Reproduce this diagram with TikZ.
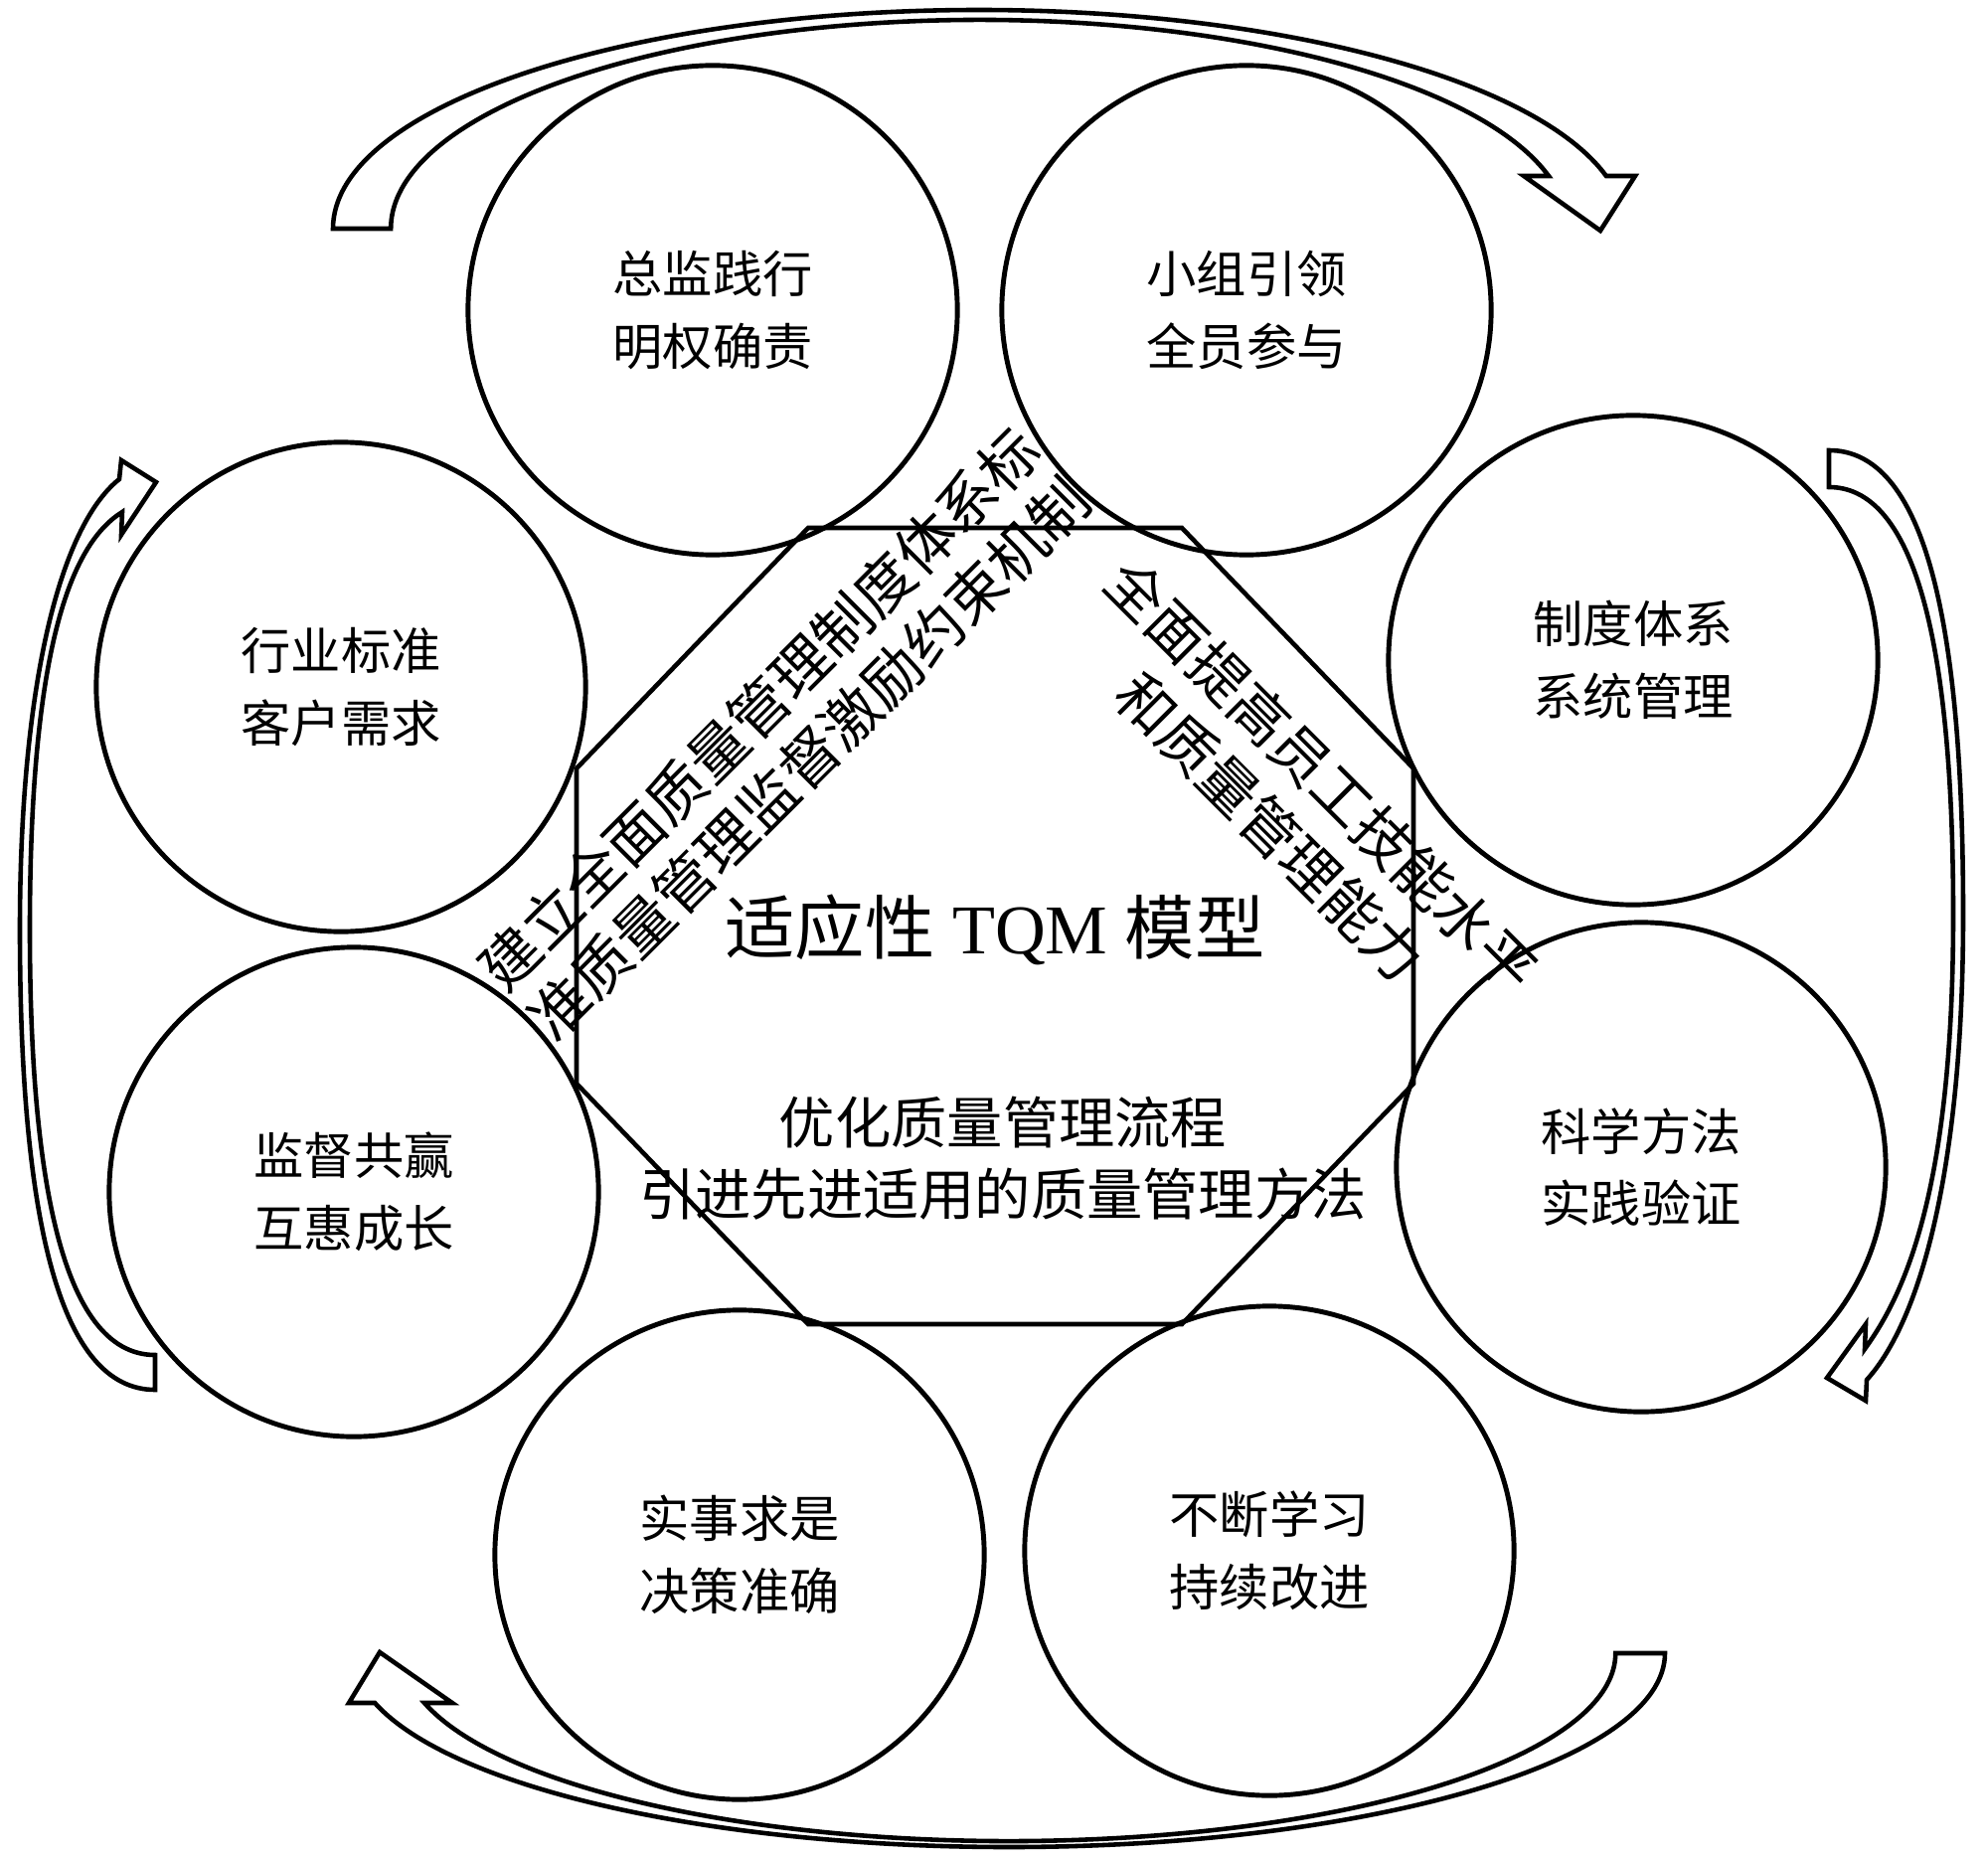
\documentclass[tikz,border=0pt]{standalone}
\usepackage{fontspec}
\setmainfont{Liberation Serif}
\newfontfamily\cjk{Noto Sans CJK SC}
\begin{document}
\begin{tikzpicture}[x=0.01cm,y=0.01cm,
  bub/.style={circle, draw, line width=1.4pt, minimum size=4.92cm, inner sep=0pt,
    align=center, font=\cjk\fontsize{14.3}{20.7}\selectfont},
  band/.style={draw, fill=white, line width=1.3pt, line join=miter},
  oct/.style={draw, line width=1.3pt, line join=miter},
  diagtxt/.style={align=center, inner sep=0pt},
]
\useasboundingbox (0,0) rectangle (2000,-1870);
\fill[white] (0,0) rectangle (2000,-1870);

% curved block arrows
\draw[band] (335,-230) arc[start angle=180, end angle=13.94, x radius=650, y radius=220]
  -- (1645,-177) -- (1610,-232) -- (1533,-177) -- (1558,-177)
  arc[start angle=14.62, end angle=180, x radius=592, y radius=210] -- cycle;
\draw[band] (1675,-1663) arc[start angle=0, end angle=-165.14, x radius=660, y radius=195]
  -- (351,-1713) -- (382,-1662) -- (455,-1713) -- (427,-1713)
  arc[start angle=-164.66, end angle=0, x radius=610, y radius=189] -- cycle;
\draw[band] (1840,-453) .. controls (1935,-453) and (1975,-620) .. (1975,-920)
  .. controls (1975,-1165) and (1935,-1325) .. (1878,-1388)
  -- (1877,-1409) -- (1838,-1386) -- (1877,-1332) -- (1876,-1357)
  .. controls (1915,-1303) and (1965,-1200) .. (1965,-920)
  .. controls (1965,-680) and (1935,-490) .. (1840,-490) -- cycle;
\draw[band] (156,-1398) .. controls (61,-1398) and (20,-1231) .. (20,-935)
  .. controls (20,-690) and (60,-530) .. (120,-482)
  -- (122,-463) -- (157,-485) -- (122,-538) -- (123,-515)
  .. controls (75,-545) and (30,-640) .. (30,-935)
  .. controls (30,-1175) and (60,-1363) .. (156,-1363) -- cycle;

% circles
\node[bub] (c1) at (717,-312) {总监践行\\明权确责};
\node[bub] (c2) at (1254,-312) {小组引领\\全员参与};
\node[bub] (c3) at (1643,-664) {制度体系\\系统管理};
\node[bub] (c4) at (1651,-1174) {科学方法\\实践验证};
\node[bub] (c5) at (1277,-1560) {不断学习\\持续改进};
\node[bub] (c6) at (744,-1564) {实事求是\\决策准确};
\node[bub] (c7) at (356,-1199) {监督共赢\\互惠成长};
\node[bub] (c8) at (343,-691) {行业标准\\客户需求};

% octagon
\coordinate (o1) at (813,-531);
\coordinate (o2) at (1189,-531);
\coordinate (o3) at (1422,-773);
\coordinate (o4) at (1422,-1090);
\coordinate (o5) at (1189,-1332);
\coordinate (o6) at (813,-1332);
\coordinate (o7) at (580,-1090);
\coordinate (o8) at (580,-773);
\draw[oct] (o1) -- (o2) -- (o3) -- (o4) -- (o5) -- (o6) -- (o7) -- (o8) -- cycle;

% texts
\node[font=\fontsize{20}{24}\selectfont] (title) at (1001,-935) {{\cjk 适应性} TQM {\cjk 模型}};
\node[align=center, font=\cjk\fontsize{16}{20.6}\selectfont] (sub) at (1009,-1165)
  {优化质量管理流程\\引进先进适用的质量管理方法};
\node[diagtxt, rotate=45, font=\cjk\fontsize{16.8}{20.2}\selectfont] (dl) at (789,-738)
  {建立全面质量管理制度体系标\\准质量管理监督激励约束机制};
\node[diagtxt, rotate=-45, font=\cjk\fontsize{16.6}{20.8}\selectfont] (dr) at (1304,-806)
  {全面提高员工技能水平\\和质量管理能力};
\end{tikzpicture}
\end{document}
